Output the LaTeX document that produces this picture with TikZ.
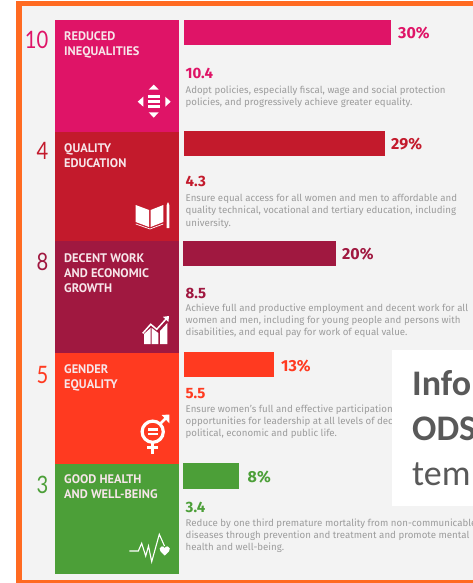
\documentclass[tikz,border=0pt]{standalone}
\usepackage{fontspec}
\setmainfont{Fira Sans}
\newfontfamily\labfont{PT Sans}
\newfontfamily\numfont[FakeStretch=0.84]{Lato}
\newfontfamily\bigfont{Carlito}
\definecolor{cpink}{HTML}{DF1467}
\definecolor{cred}{HTML}{C31A2C}
\definecolor{cpurple}{HTML}{A01840}
\definecolor{corange}{HTML}{FF3A20}
\definecolor{cgreen}{HTML}{4C9F38}
\definecolor{cframe}{HTML}{FF6A21}
\definecolor{cpanel}{HTML}{F3F3F3}
\definecolor{cbody}{HTML}{9C9C9C}
\definecolor{cbig}{HTML}{595959}
\definecolor{clab}{HTML}{F7E6EA}
\tikzset{
  x=1pt,y=-1pt,
  numlabel/.style={anchor=base east,inner sep=0pt,text=#1,font=\numfont\fontsize{24}{24}\selectfont},
  goal/.style={anchor=north west,inner sep=0pt,align=left,text=clab,font=\labfont\bfseries\fontsize{12.4}{15.3}\selectfont},
  pct/.style={anchor=base west,inner sep=0pt,text=#1,font=\bfseries\fontsize{16}{16}\selectfont},
  target/.style={anchor=base west,inner sep=0pt,text=#1,font=\bfseries\fontsize{15}{15}\selectfont},
  bodytext/.style={anchor=north west,inner sep=0pt,align=left,text=cbody,font=\fontsize{9.7}{12.3}\selectfont},
  bigtext/.style={anchor=base west,inner sep=0pt,text=cbig,font=\bigfont\fontsize{36}{36}\selectfont},
  bigbold/.style={bigtext,font=\bigfont\bfseries\fontsize{36}{36}\selectfont},
  icon/.style={fill=white,draw=none},
  iconline/.style={draw=white,line width=#1,fill=none},
}
\begin{document}
\begin{tikzpicture}
\useasboundingbox (0,0) rectangle (473,583);
\clip (0,0) rectangle (473,583);
\fill[white] (0,0) rectangle (473,583);
\fill[cframe] (16,1) rectangle (473,583);
\fill[cpanel] (22,6.5) rectangle (473,579.5);
% tiles
\fill[cpink] (55,20) rectangle (179,132);
\fill[cred] (55,132) rectangle (179,240.6);
\fill[cpurple] (55,240.6) rectangle (179,353);
\fill[corange] (55,353) rectangle (179,464.4);
\fill[cgreen] (55,464.4) rectangle (179,574);
% bars
\fill[cpink] (184,20.5) rectangle (391,45.5);
\fill[cred] (184,130.5) rectangle (384.5,155.5);
\fill[cpurple] (183,240.5) rectangle (335.5,266);
\fill[corange] (184,352) rectangle (274,377);
\fill[cgreen] (183,463) rectangle (239,489);
% numbers
\node[numlabel=cpink] (numA) at (48.5,48.5) {10};
\node[numlabel=cred] (numB) at (48.5,159.5) {4};
\node[numlabel=cpurple] (numC) at (48.5,270) {8};
\node[numlabel=corange] (numD) at (48.5,383) {5};
\node[numlabel=cgreen] (numE) at (48.5,493) {3};
% goal titles
\node[goal] (goalA) at (64,31.5) {REDUCED\\INEQUALITIES};
\node[goal] (goalB) at (64,143.5) {QUALITY\\EDUCATION};
\node[goal] (goalC) at (64,253) {DECENT WORK\\AND ECONOMIC\\GROWTH};
\node[goal] (goalD) at (64,364) {GENDER\\EQUALITY};
\node[goal] (goalE) at (64,474.5) {GOOD HEALTH\\AND WELL-BEING};
% percentages
\node[pct=cpink] (pctA) at (398,39) {30\%};
\node[pct=cred] (pctB) at (391,149) {29\%};
\node[pct=cpurple] (pctC) at (342,259) {20\%};
\node[pct=corange] (pctD) at (281,371) {13\%};
\node[pct=cgreen] (pctE) at (247.5,482) {8\%};
% targets
\node[target=cpink] (tgtA) at (185.5,78.5) {10.4};
\node[target=cred] (tgtB) at (185.5,186.5) {4.3};
\node[target=cpurple] (tgtC) at (185.5,298) {8.5};
\node[target=corange] (tgtD) at (185.5,398) {5.5};
\node[target=cgreen] (tgtE) at (185.5,512) {3.4};
% bodies
\node[bodytext] (bodyA) at (185.5,85.5) {Adopt policies, especially fiscal, wage and social protection\\policies, and progressively achieve greater equality.};
\node[bodytext] (bodyB) at (185.5,194) {Ensure equal access for all women and men to affordable and\\quality technical, vocational and tertiary education, including\\university.};
\node[bodytext] (bodyC) at (185.5,303.5) {Achieve full and productive employment and decent work for all\\women and men, including for young people and persons with\\disabilities, and equal pay for work of equal value.};
\node[bodytext] (bodyD) at (185.5,404.5) {Ensure women's full and effective participation\\opportunities for leadership at all levels of deci\\political, economic and public life.};
\node[bodytext] (bodyE) at (185.5,518.5) {Reduce by one third premature mortality from non-communicable\\diseases through prevention and treatment and promote mental\\health and well-being.};
% overlay
\fill[white] (392,350) rectangle (473,505.5);
\node[bigbold] (bigA) at (412,395) {Info};
\node[bigbold] (bigB) at (412,440) {ODS};
\node[bigtext] (bigC) at (412,485) {tem};
% icon: inequalities
\fill[icon] (153.7,84.7) -- (158.7,89.7) -- (148.7,89.7) -- cycle;
\fill[icon] (148.7,112.3) -- (158.7,112.3) -- (153.7,117.7) -- cycle;
\fill[icon] (137.7,101.7) -- (143.3,96.7) -- (143.3,106.7) -- cycle;
\fill[icon] (170.7,101.7) -- (165.3,96.7) -- (165.3,106.7) -- cycle;
\fill[icon] (148,95) rectangle (160,97.7);
\fill[icon] (148,100.3) rectangle (160,103);
\fill[icon] (148,105.3) rectangle (160,108);
% icon: book
\fill[icon] (135.7,205) -- (149,210) -- (149,227) -- (135.7,222) -- cycle;
\fill[icon] (150.7,210) -- (163.3,205) -- (163.3,222) -- (150.7,227) -- cycle;
\draw[iconline=0.7] (135.7,224) -- (150,229) -- (163.3,224);
\fill[icon] (166.7,205) -- (168,202) -- (169.3,205) -- (169.3,228) -- (166.7,228) -- cycle;
% icon: chart
\fill[icon] (144,334) -- (150.7,328) -- (150.7,344) -- (144,344) -- cycle;
\fill[icon] (151.7,328) -- (158.3,333) -- (158.3,344) -- (151.7,344) -- cycle;
\fill[icon] (160,331) -- (167.3,323) -- (167.3,344) -- (160,344) -- cycle;
\draw[iconline=1.5] (142.7,333.3) -- (150.7,324.3) -- (156.7,329.3) -- (166.5,318.5);
\fill[icon] (163,316.8) -- (169,316) -- (168.4,322) -- cycle;
% icon: gender
\draw[iconline=3.2] (152.7,431.7) circle[radius=10.6];
\fill[icon] (147.7,428.3) rectangle (157.7,431);
\fill[icon] (147.7,432.6) rectangle (157.7,435.3);
\draw[iconline=2.8] (152.7,443) -- (152.7,453.5);
\draw[iconline=2.8] (147.3,447.7) -- (158,447.7);
\draw[iconline=2.8] (160.5,423.5) -- (167,417);
\fill[icon] (161.7,415) -- (169.3,414.5) -- (169.3,423.3) -- cycle;
% icon: health
\draw[iconline=1.1] (129.3,551) -- (138.3,551) -- (141.7,543.3) -- (145.7,556) -- (148.5,546) -- (151.7,561.7) -- (159.3,534.3) -- (164.5,546);
\fill[icon] (164.7,555.5) .. controls (160,551.5) and (159.5,550) .. (159.7,548.5) .. controls (160,546) and (163.5,545.5) .. (164.7,548) .. controls (166,545.5) and (169.5,546) .. (169.8,548.5) .. controls (170,550) and (169.5,551.5) .. (164.7,555.5) -- cycle;
\end{tikzpicture}
\end{document}
